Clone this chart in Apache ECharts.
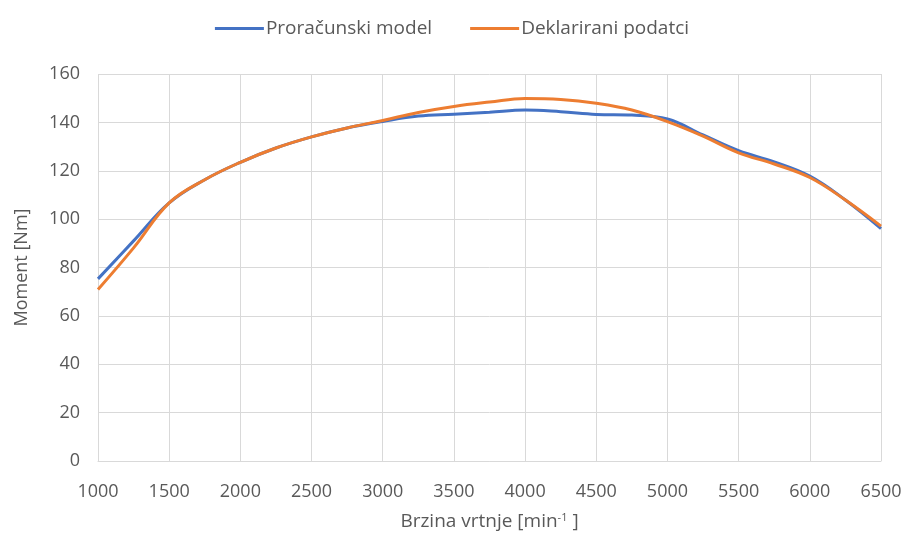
<!DOCTYPE html>
<html>
<head>
<meta charset="utf-8">
<script src="https://cdn.jsdelivr.net/npm/echarts@6/dist/echarts.min.js"></script>
<style>
  html, body { margin: 0; padding: 0; background: #fff; }
  #chart { width: 904px; height: 537px; }
</style>
</head>
<body>
<div id="chart"></div>
<script>
// brzina vrtnje [min^-1]
const rpm = [1000, 1250, 1500, 1750, 2000, 2250, 2500, 2750, 3000, 3250, 3500, 3750,
             4000, 4250, 4500, 4750, 5000, 5250, 5500, 5750, 6000, 6250, 6500];
// Proračunski model
const modelTorque = [75.3, 91.0, 106.7, 116.3, 123.5, 129.4, 134.0, 137.7, 140.4, 142.6, 143.4, 144.2,
                     145.1, 144.4, 143.3, 143.0, 141.4, 134.8, 128.3, 123.7, 117.8, 107.9, 96.1];
// Deklarirani podatci
const declaredTorque = [70.9, 88.1, 106.7, 116.3, 123.5, 129.4, 134.0, 137.7, 140.8, 144.1, 146.6, 148.4,
                        149.9, 149.5, 147.9, 145.1, 140.3, 134.3, 127.4, 122.8, 117.2, 107.9, 97.1];
const seriesNames = ['Proračunski model', 'Deklarirani podatci'];

const toPairs = (xs, ys) => xs.map((x, i) => [x, ys[i]]);

const font = 'Open Sans';
const textGrey = '#595959';
const gridGrey = '#d9d9d9';

const chart = echarts.init(document.getElementById('chart'));
chart.setOption({
  animation: false,
  color: ['#4472C4', '#ED7D31'],
  legend: {
    top: 14,
    left: 'center',
    icon: 'rect',
    itemWidth: 49,
    itemHeight: 3,
    itemGap: 38,
    textStyle: { fontFamily: font, fontSize: 19, color: textGrey, padding: [0, 0, 0, -3] },
    data: seriesNames
  },
  grid: { left: 98, right: 23, top: 74, bottom: 76, containLabel: false, outerBoundsMode: 'none' },
  xAxis: {
    type: 'value',
    min: 1000,
    max: 6500,
    interval: 500,
    name: 'Brzina vrtnje [min{sup|-1} ]',
    nameLocation: 'middle',
    nameGap: 51,
    nameTextStyle: {
      fontFamily: font, fontSize: 19, color: textGrey,
      rich: { sup: { fontFamily: font, fontSize: 11, color: textGrey, verticalAlign: 'top', padding: [0, 0, 8, 0] } }
    },
    axisLine: { show: true, lineStyle: { color: gridGrey, width: 1 } },
    axisTick: { show: false },
    axisLabel: { fontFamily: font, fontSize: 18, color: textGrey, margin: 22, formatter: v => String(v) },
    splitLine: { show: true, lineStyle: { color: gridGrey, width: 1 } }
  },
  yAxis: {
    type: 'value',
    min: 0,
    max: 160,
    interval: 20,
    name: 'Moment [Nm]',
    nameLocation: 'middle',
    nameGap: 67,
    nameTextStyle: { fontFamily: font, fontSize: 18, color: textGrey },
    axisLine: { show: false },
    axisTick: { show: false },
    axisLabel: { fontFamily: font, fontSize: 18, color: textGrey, margin: 18 },
    splitLine: { show: true, lineStyle: { color: gridGrey, width: 1 } }
  },
  series: [
    {
      name: seriesNames[0],
      type: 'line',
      smooth: 0.4,
      showSymbol: false,
      lineStyle: { width: 3 },
      data: toPairs(rpm, modelTorque)
    },
    {
      name: seriesNames[1],
      type: 'line',
      smooth: 0.4,
      showSymbol: false,
      lineStyle: { width: 3 },
      data: toPairs(rpm, declaredTorque)
    }
  ]
});
</script>
</body>
</html>
